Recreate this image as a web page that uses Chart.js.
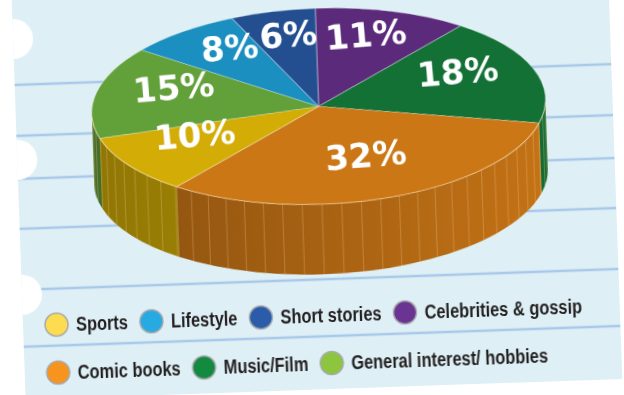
<!DOCTYPE html>
<html>
<head>
<meta charset="utf-8">
<script src="https://cdn.jsdelivr.net/npm/chart.js@4.4.1/dist/chart.umd.min.js"></script>
<style>
  html, body { margin: 0; padding: 0; background: #fff; overflow: hidden; }
  body { width: 624px; height: 395px; position: relative; }
  /* notebook sheet, a little askew */
  #paper {
    position: absolute; left: 11px; top: -20px;
    width: 597px; height: 420px;
    background: #def0f6;
    transform: rotate(-2deg); transform-origin: 0 0;
    overflow: hidden;
  }
  #paper canvas { position: absolute; left: 0; top: 0; }
</style>
</head>
<body>
<div id="paper"><canvas id="readingChart" width="640" height="420"></canvas></div>
<script>
// DATA (slices run clockwise from 12 o'clock)
const categories = ["Celebrities & gossip", "Music/Film", "Comic books", "Sports", "General interest/ hobbies", "Lifestyle", "Short stories"];
const shares = [11, 18, 32, 10, 15, 8, 6];
const legendOrder = ["Sports", "Lifestyle", "Short stories", "Celebrities & gossip", "Comic books", "Music/Film", "General interest/ hobbies"];

// COLOURS
const topColors = ["#5b2a7b", "#147136", "#cc7716", "#d3ad06", "#62a03a", "#1b8fc0", "#234f91"];
const keyColors = ["#6a3592", "#138a3f", "#f7941d", "#fddc4f", "#8cc63f", "#27aae1", "#2a5caa"];

// ruled lines + punch holes of the sheet
const RULES = [105, 156, 199, 249, 310, 367];
const HOLES = [59, 180, 315];

function pieFrame(chart, opts) {
  const arc = chart.getDatasetMeta(0).data[0];
  return {
    ox: arc.x, oy: arc.y, R: arc.outerRadius,
    cx: arc.x, cy: chart.chartArea.top + opts.radiusY,
    rx: opts.radiusX, ry: opts.radiusY, depth: opts.depth
  };
}

// draws the pie as a thick tilted disc
const pie3d = {
  id: "pie3d",
  beforeDraw(chart) {
    const ctx = chart.ctx;
    ctx.save();
    ctx.strokeStyle = "#a9c8ea";
    ctx.lineWidth = 2.5;
    RULES.forEach(y => {
      ctx.beginPath();
      ctx.moveTo(0, y);
      ctx.lineTo(chart.width, y);
      ctx.stroke();
    });
    ctx.fillStyle = "#fff";
    HOLES.forEach(y => {
      ctx.beginPath();
      ctx.arc(0, y, 20, 0, Math.PI * 2);
      ctx.fill();
    });
    ctx.restore();
  },
  beforeDatasetsDraw(chart, args, opts) {
    const ctx = chart.ctx;
    const f = pieFrame(chart, opts);
    const meta = chart.getDatasetMeta(0);
    const colors = chart.data.datasets[0].backgroundColor;
    const step = Math.PI / 36;

    const shade = ctx.createLinearGradient(f.cx - f.rx, 0, f.cx + f.rx, 0);
    shade.addColorStop(0, "rgba(0,0,0,0.32)");
    shade.addColorStop(1, "rgba(0,0,0,0.04)");

    meta.data.forEach((el, i) => {
      const lo = Math.max(el.startAngle, 0);
      const hi = Math.min(el.endAngle, Math.PI);
      if (hi <= lo) return;

      ctx.beginPath();
      ctx.ellipse(f.cx, f.cy, f.rx, f.ry, 0, lo, hi);
      ctx.ellipse(f.cx, f.cy + f.depth, f.rx, f.ry, 0, hi, lo, true);
      ctx.closePath();
      ctx.fillStyle = colors[i];
      ctx.fill();
      ctx.fillStyle = shade;
      ctx.fill();

      // facet seams on the wall
      ctx.save();
      ctx.strokeStyle = "rgba(255,215,160,0.28)";
      ctx.lineWidth = 1;
      for (let a = Math.ceil(lo / step) * step; a < hi; a += step) {
        const x = f.cx + f.rx * Math.cos(a);
        const y = f.cy + f.ry * Math.sin(a);
        ctx.beginPath();
        ctx.moveTo(x, y);
        ctx.lineTo(x, y + f.depth);
        ctx.stroke();
      }
      ctx.restore();
    });

    // squash the library's round pie into the top ellipse
    ctx.save();
    ctx.translate(f.cx, f.cy);
    ctx.scale(f.rx / f.R, f.ry / f.R);
    ctx.translate(-f.ox, -f.oy);
  },
  afterDatasetsDraw(chart, args, opts) {
    const ctx = chart.ctx;
    ctx.restore();
    const f = pieFrame(chart, opts);
    const meta = chart.getDatasetMeta(0);

    // rim highlight
    ctx.save();
    ctx.strokeStyle = "rgba(255,225,170,0.45)";
    ctx.lineWidth = 1;
    ctx.beginPath();
    ctx.ellipse(f.cx, f.cy, f.rx, f.ry, 0, 0.03, Math.PI - 0.03);
    ctx.stroke();

    // percentage labels
    ctx.fillStyle = "#fff";
    ctx.font = "bold 34px 'DejaVu Sans'";
    ctx.textAlign = "center";
    ctx.textBaseline = "middle";
    meta.data.forEach((el, i) => {
      const mid = (el.startAngle + el.endAngle) / 2;
      const x = f.cx + Math.cos(mid) * f.rx * opts.labelRadius;
      const y = f.cy + Math.sin(mid) * f.ry * opts.labelRadius - opts.labelLift;
      ctx.save();
      ctx.translate(x, y);
      ctx.rotate(-3 * Math.PI / 180);
      ctx.fillText(chart.data.datasets[0].data[i] + "%", 0, 0);
      ctx.restore();
    });
    ctx.restore();
  }
};

// key with round swatches and narrow bold type
const keyLegend = {
  id: "keyLegend",
  afterDraw(chart, args, opts) {
    const ctx = chart.ctx;
    ctx.save();
    ctx.font = opts.font;
    ctx.textBaseline = "middle";
    ctx.lineWidth = 1.5;
    let x = opts.left;
    let y = opts.top;
    legendOrder.forEach(name => {
      const i = categories.indexOf(name);
      const w = ctx.measureText(name).width * opts.squeeze;
      const itemW = opts.dot * 2 + opts.gap + w;
      if (x > opts.left && x + itemW > opts.maxRight) {
        x = opts.left;
        y += opts.rowHeight;
      }
      ctx.beginPath();
      ctx.arc(x + opts.dot, y, opts.dot, 0, Math.PI * 2);
      ctx.fillStyle = keyColors[i];
      ctx.fill();
      ctx.strokeStyle = "#a7a9ac";
      ctx.stroke();

      ctx.save();
      ctx.translate(x + opts.dot * 2 + opts.gap, y + 1);
      ctx.scale(opts.squeeze, 1);
      ctx.fillStyle = "#231f20";
      ctx.fillText(name, 0, 0);
      ctx.restore();
      x += itemW + opts.spacing;
    });
    ctx.restore();
  }
};

const chart = new Chart(document.getElementById("readingChart"), {
  type: "pie",
  data: {
    labels: categories,
    datasets: [{
      data: shares,
      backgroundColor: topColors,
      borderColor: "rgba(255,255,255,0.35)",
      borderWidth: 1,
      clip: false
    }]
  },
  options: {
    responsive: false,
    animation: false,
    events: [],
    layout: { padding: { top: 39, right: 34, bottom: 8, left: 0 } },
    plugins: {
      tooltip: { enabled: false },
      legend: { display: false },
      pie3d: { radiusX: 227, radiusY: 98, depth: 70, labelRadius: 0.65, labelLift: 7 },
      keyLegend: {
        font: "bold 20px 'Liberation Sans'",
        squeeze: 0.82,
        left: 22, top: 346, rowHeight: 48,
        dot: 11.5, gap: 8, spacing: 12, maxRight: 590
      }
    }
  },
  plugins: [pie3d, keyLegend]
});
</script>
</body>
</html>
